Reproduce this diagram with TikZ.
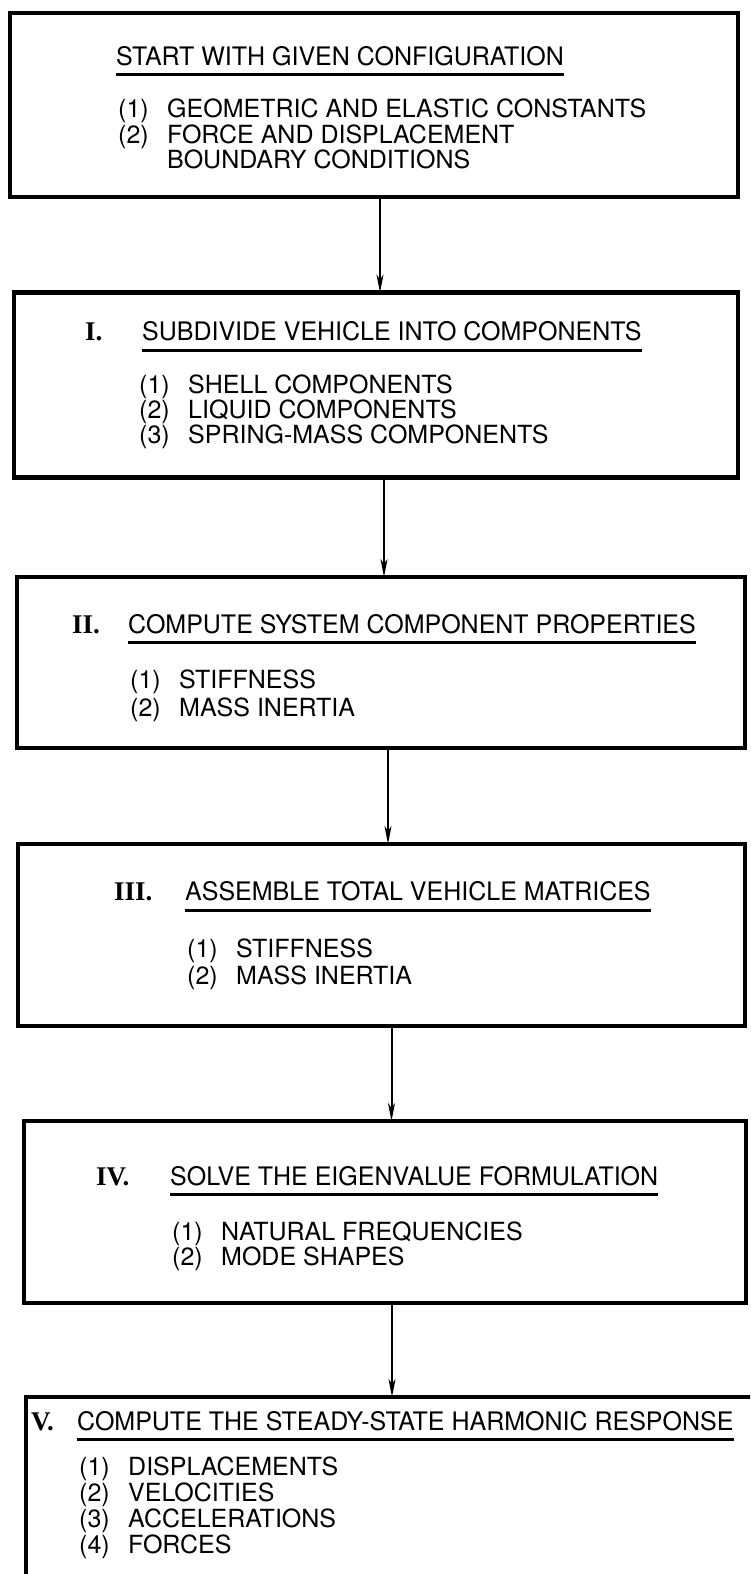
\documentclass[tikz,border=0pt]{standalone}
\usepackage{fontspec}
\setmainfont{TeX Gyre Heros}
\newfontfamily\headfont[FakeStretch=0.98]{TeX Gyre Heros}
\newfontfamily\romfont{Liberation Serif}
\usetikzlibrary{arrows.meta}

\tikzset{
	box/.style={draw, line width=4.5pt, inner sep=0pt, outer sep=0pt},
	head/.style={anchor=base west, inner sep=0pt, font=\headfont\fontsize{25.5}{25.5}\selectfont},
	roman/.style={anchor=base west, inner sep=0pt, font=\romfont\bfseries\fontsize{27}{27}\selectfont},
	entry/.style={anchor=base west, inner sep=0pt, font=\fontsize{25}{25}\selectfont},
	uline/.style={line width=3pt},
	flow/.style={line width=2pt, -{Stealth[length=18pt, width=7pt, inset=5pt]}},
}
\newcommand{\num}[1]{\makebox[49pt][l]{(#1)}}

\begin{document}
\begin{tikzpicture}[x=1pt, y=-1pt]
	\useasboundingbox (0,0) rectangle (750,1574);
	\clip (0,0) rectangle (750,1574);

	% boxes
	\node [box, minimum width=728pt, minimum height=184pt] (b0) at (374,105) {};
	\node [box, minimum width=724pt, minimum height=185pt] (b1) at (376,385) {};
	\node [box, minimum width=728pt, minimum height=171pt] (b2) at (381,662.5) {};
	\node [box, minimum width=727pt, minimum height=182pt] (b3) at (381.5,935) {};
	\node [box, minimum width=722pt, minimum height=182pt] (b4) at (385,1212) {};
	\node [box, minimum width=744pt, minimum height=179pt] (b5) at (398,1486.5) {};

	% start
	\node [head] (t0) at (116,65) {START WITH GIVEN CONFIGURATION};
	\draw [uline] ([yshift=-9pt]t0.base west) -- ([yshift=-9pt]t0.base east);
	\node [entry] (e01) at (118,117) {\num{1}GEOMETRIC AND ELASTIC CONSTANTS};
	\node [entry] (e02) at (118,143) {\num{2}FORCE AND DISPLACEMENT};
	\node [entry] (e03) at (118,168) {\hspace*{49pt}BOUNDARY CONDITIONS};

	% I
	\node [roman] (r1) at (85,340) {I.};
	\node [head] (t1) at (142,340) {SUBDIVIDE VEHICLE INTO COMPONENTS};
	\draw [uline] ([yshift=-10pt]t1.base west) -- ([yshift=-10pt]t1.base east);
	\foreach \txt [count=\i] in {SHELL COMPONENTS, LIQUID COMPONENTS, SPRING-MASS COMPONENTS}
		\node [entry] (e1\i) at (139,368+25*\i) {\num{\i}\txt};

	% II
	\node [roman] (r2) at (72,633) {II.};
	\node [head] (t2) at (128,633) {COMPUTE SYSTEM COMPONENT PROPERTIES};
	\draw [uline] ([yshift=-9pt]t2.base west) -- ([yshift=-9pt]t2.base east);
	\foreach \txt [count=\i] in {STIFFNESS, MASS INERTIA}
		\node [entry] (e2\i) at (130,660+28*\i) {\num{\i}\txt};

	% III
	\node [roman] (r3) at (114,900) {III.};
	\node [head] (t3) at (185,900) {ASSEMBLE TOTAL VEHICLE MATRICES};
	\draw [uline] ([yshift=-10pt]t3.base west) -- ([yshift=-10pt]t3.base east);
	\foreach \txt [count=\i] in {STIFFNESS, MASS INERTIA}
		\node [entry] (e3\i) at (187,930+27*\i) {\num{\i}\txt};

	% IV
	\node [roman] (r4) at (96,1185) {IV.};
	\node [head] (t4) at (170,1185) {SOLVE THE EIGENVALUE FORMULATION};
	\draw [uline] ([yshift=-9pt]t4.base west) -- ([yshift=-9pt]t4.base east);
	\foreach \txt [count=\i] in {NATURAL FREQUENCIES, MODE SHAPES}
		\node [entry] (e4\i) at (172,1215+25*\i) {\num{\i}\txt};

	% V
	\node [roman] (r5) at (31,1430) {V.};
	\node [head] (t5) at (77,1430) {COMPUTE THE STEADY-STATE HARMONIC RESPONSE};
	\draw [uline] ([yshift=-9pt]t5.base west) -- ([yshift=-9pt]t5.base east);
	\foreach \txt [count=\i] in {DISPLACEMENTS, VELOCITIES, ACCELERATIONS, FORCES}
		\node [entry] (e5\i) at (79,1449+26*\i) {\num{\i}\txt};

	% arrows
	\foreach \a/\b/\s in {b0/b1/6, b1/b2/8, b2/b3/7, b3/b4/10, b4/b5/7}
		\draw [flow] ([xshift=\s pt]\a.south) -- ([xshift=\s pt]\a.south |- \b.north);
\end{tikzpicture}
\end{document}
